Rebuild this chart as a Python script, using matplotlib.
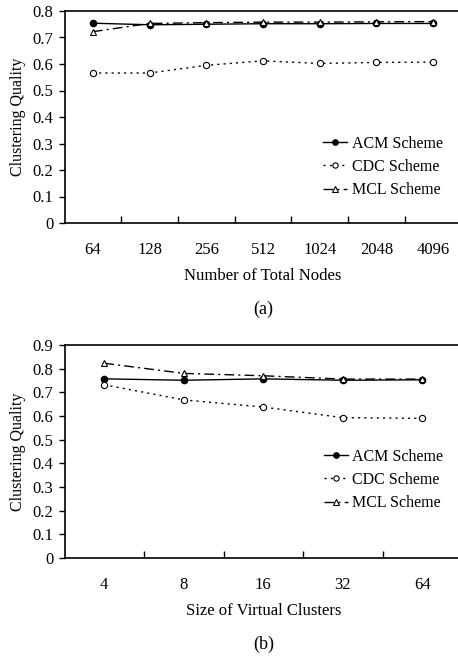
import numpy as np
import matplotlib
matplotlib.use('Agg')
import matplotlib.pyplot as plt

plt.rcParams['font.family'] = ['Liberation Serif', 'DejaVu Serif']
plt.rcParams['font.size'] = 11.5

# panel (a): number of total nodes
nodes = ['64', '128', '256', '512', '1024', '2048', '4096']
acm_a = [0.754, 0.748, 0.750, 0.752, 0.752, 0.753, 0.753]
cdc_a = [0.566, 0.566, 0.595, 0.612, 0.602, 0.606, 0.607]
mcl_a = [0.722, 0.753, 0.756, 0.758, 0.758, 0.759, 0.760]

# panel (b): size of virtual clusters
sizes = ['4', '8', '16', '32', '64']
acm_b = [0.757, 0.751, 0.757, 0.751, 0.753]
cdc_b = [0.732, 0.668, 0.638, 0.593, 0.590]
mcl_b = [0.823, 0.780, 0.770, 0.756, 0.756]

fig = plt.figure(figsize=(4.58, 6.56), dpi=100)
ax1 = fig.add_axes([64.5/458, 433/656, 397/458, 212/656])
ax2 = fig.add_axes([64.5/458, 98/656, 397.5/458, 213/656])


def draw(ax, cats, acm, cdc, mcl, ymax, xlabel, tag, leg_y):
    x = np.arange(len(cats))
    ax.plot(x, acm, color='k', lw=1.0, marker='o', ms=4.5, mfc='k', label='ACM Scheme')
    ax.plot(x, cdc, color='k', lw=1.0, ls=(0, (1.5, 3)), marker='o', ms=4.5,
            mfc='white', mew=0.8, label='CDC Scheme')
    ax.plot(x, mcl, color='k', lw=1.0, ls=(0, (7, 3, 1.5, 3)), marker='^', ms=5,
            mfc='white', mew=0.8, label='MCL Scheme')
    ax.set_xlim(-0.5, len(cats) - 0.5)
    ax.set_ylim(0, ymax)
    ax.set_yticks(np.arange(0, ymax + 0.01, 0.1))
    ax.set_yticklabels(['0'] + ['%.1f' % v for v in np.arange(0.1, ymax + 0.01, 0.1)])
    ax.set_xticks(x)
    ax.set_xticklabels(cats)
    ax.set_xticks(x[:-1] + 0.5, minor=True)
    ax.tick_params(axis='x', which='major', length=0, pad=14, labelsize=12)
    ax.tick_params(axis='x', which='minor', direction='in', length=5, width=1)
    ax.tick_params(axis='y', direction='out', length=4, width=1, pad=4, labelsize=12)
    for s in ['left', 'bottom', 'top']:
        ax.spines[s].set_linewidth(1.2)
    ax.spines['right'].set_visible(False)
    ax.set_xlabel(xlabel, labelpad=7, fontsize=12)
    ax.set_ylabel('Clustering Quality', labelpad=5, fontsize=11.5)
    ax.legend(loc='center left', bbox_to_anchor=(0.652, leg_y), frameon=False,
              handlelength=1.5, handletextpad=0.3, labelspacing=0.45, fontsize=11.5,
              markerscale=0.85, borderaxespad=0, borderpad=0)
    ax.text(0.5, -0.405, tag, transform=ax.transAxes, ha='center', va='center', fontsize=13)


draw(ax1, nodes, acm_a, cdc_a, mcl_a, 0.8, 'Number of Total Nodes', '(a)', 0.264)
draw(ax2, sizes, acm_b, cdc_b, mcl_b, 0.9, 'Size of Virtual Clusters', '(b)', 0.366)

fig.savefig('out.png', dpi=100)
